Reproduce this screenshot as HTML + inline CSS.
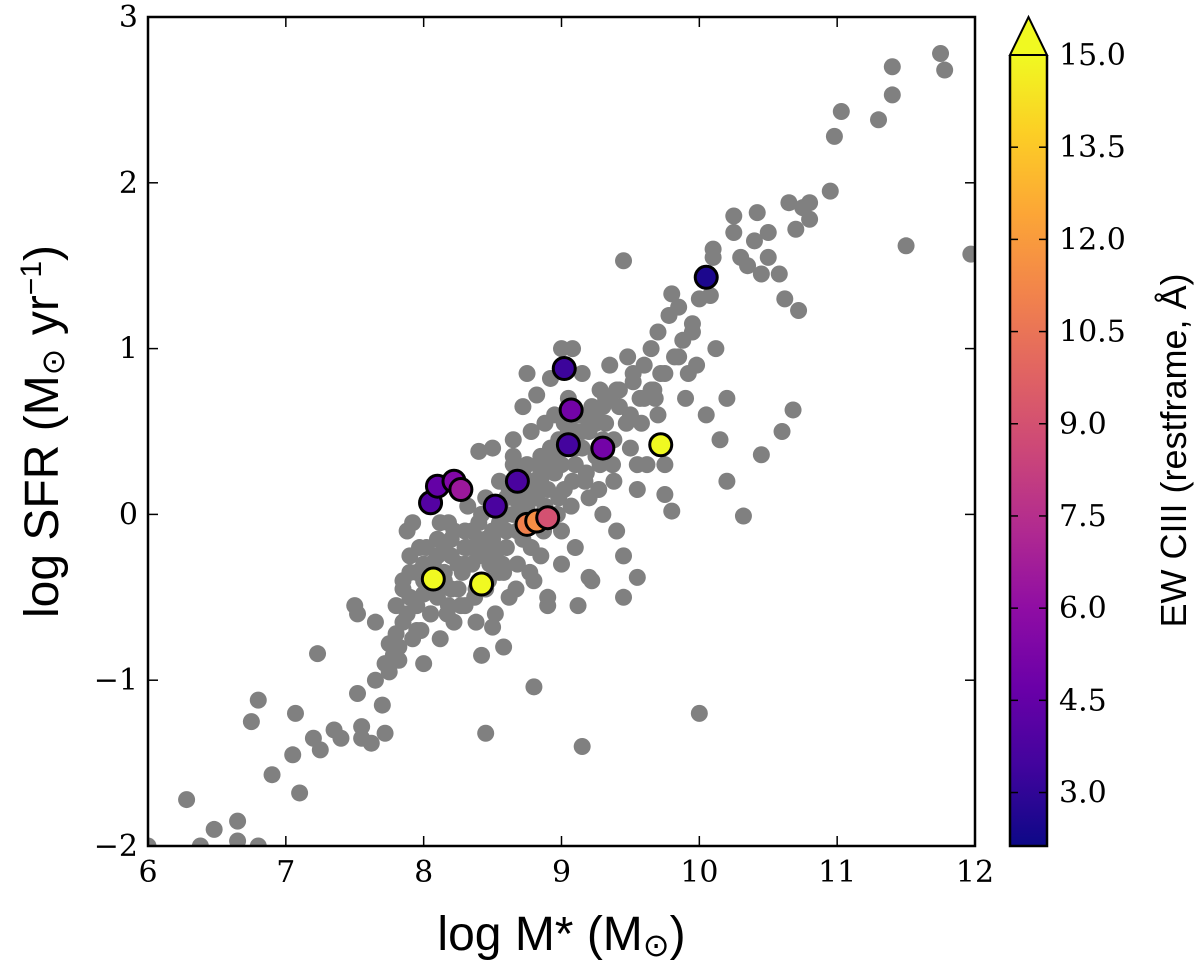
<!DOCTYPE html>
<html><head><meta charset="utf-8"><style>
body{margin:0;background:#fff;}
svg{display:block;font-family:"DejaVu Serif","Liberation Serif",serif;}
.lab{font-family:"Liberation Sans","DejaVu Sans",sans-serif;}
</style></head><body>
<svg id="chart" width="1200" height="966" xmlns="http://www.w3.org/2000/svg">
<g id="plot"></g>
</svg>
<script>
const xTicks=[6,7,8,9,10,11,12];
const yTicks=[-2,-1,0,1,2,3];
const yTickLabels=["\u22122","\u22121","0","1","2","3"];
const cbTicks=[3.0,4.5,6.0,7.5,9.0,10.5,12.0,13.5,15.0];
const grayX=[6.0,6.28,6.38,6.48,6.65,6.65,6.8,6.75,6.8,6.9,7.07,7.05,7.1,7.2,7.23,7.25,7.35,7.4,7.5,7.52,7.52,7.55,7.55,7.62,7.65,7.65,7.7,7.72,7.72,7.75,7.8,7.82,7.85,7.85,7.88,7.9,7.92,7.95,7.97,8.0,8.0,8.05,8.1,8.1,8.12,8.15,8.18,8.2,8.22,8.25,8.3,8.3,8.32,8.35,8.38,8.4,8.4,8.42,8.45,8.45,8.48,8.5,8.5,8.52,8.55,8.55,8.58,8.6,8.6,8.62,8.65,8.65,8.68,8.7,8.72,8.72,8.75,8.75,8.78,8.8,8.8,8.82,8.85,8.85,8.88,8.9,8.9,8.92,8.95,8.95,8.98,9.0,9.0,9.02,9.05,9.08,9.1,9.1,9.12,9.15,9.15,9.2,9.2,9.22,9.25,9.28,9.3,9.32,9.35,9.38,9.4,9.42,9.45,9.45,9.48,9.5,9.52,9.55,9.58,9.6,9.62,9.65,9.68,9.7,9.72,9.75,9.75,9.78,9.8,9.8,9.82,9.85,9.88,9.9,9.92,9.95,9.98,10.0,10.0,10.05,10.08,10.1,10.1,10.12,10.15,10.2,10.2,10.25,10.25,10.3,10.32,10.35,10.4,10.42,10.45,10.45,10.5,10.5,10.58,10.6,10.62,10.65,10.68,10.7,10.72,10.75,10.8,10.8,10.95,10.98,11.03,11.3,11.4,11.4,11.5,11.75,11.78,11.97,9.15,8.45,8.8,8.5,8.9,9.0,9.2,9.45,9.55,8.0,7.9,8.35,8.55,8.65,8.7,8.85,8.95,9.05,9.25,9.35,8.25,8.4,8.6,8.75,8.9,9.1,9.3,9.5,9.65,9.85,8.15,8.3,8.5,8.7,8.95,9.2,9.4,9.6,9.75,9.95,7.95,8.05,8.2,8.45,8.65,8.85,9.05,9.3,9.55,9.7,
7.8,7.85,7.9,7.95,8.0,8.05,8.1,8.15,8.2,8.25,8.3,8.35,8.4,8.45,8.5,8.55,8.6,8.65,8.7,8.75,8.8,8.85,8.9,8.95,9.0,9.05,9.1,9.15,9.2,9.25,
7.82,7.88,7.98,8.08,8.18,8.28,8.38,8.48,8.58,8.68,8.78,8.88,8.98,9.08,9.18,9.28,9.38,
8.02,8.12,8.22,8.32,8.42,8.52,8.62,8.72,8.82,8.92,9.02,9.12,9.22,9.32,9.42,9.52,
7.75,7.78,7.92,8.07,8.17,8.27,8.37,8.47,8.57,8.67,8.77,8.87,8.97,9.07,9.17,9.27,9.37,9.47,9.57,9.67];
const grayY=[-2.0,-1.72,-2.0,-1.9,-1.85,-1.97,-2.0,-1.25,-1.12,-1.57,-1.2,-1.45,-1.68,-1.35,-0.84,-1.42,-1.3,-1.35,-0.55,-0.6,-1.08,-1.28,-1.35,-1.38,-0.65,-1.0,-1.15,-1.32,-0.9,-0.78,-0.72,-0.88,-0.45,-0.65,-0.1,-0.35,-0.05,-0.55,-0.2,-0.9,-0.3,-0.6,-0.5,-0.15,-0.75,-0.35,-0.05,-0.25,-0.65,-0.45,-0.1,-0.55,0.05,-0.3,-0.65,0.38,-0.15,-0.85,0.1,-0.45,-0.3,0.4,-0.1,-0.6,0.2,-0.35,-0.8,0.0,-0.2,-0.5,0.3,0.45,-0.3,0.1,0.65,-0.15,0.3,0.85,0.5,-0.4,0.15,0.72,0.35,-0.25,0.55,0.0,-0.55,0.82,0.25,0.6,0.45,1.0,-0.1,0.15,0.7,1.0,0.3,-0.2,-0.55,0.5,0.85,0.1,0.6,-0.4,0.35,0.75,0.0,0.55,0.9,0.2,-0.1,0.65,1.53,-0.25,0.95,0.4,0.8,0.15,0.55,0.9,0.3,1.0,0.7,1.1,0.85,0.3,0.12,1.2,0.02,1.33,0.95,1.25,1.05,0.7,0.85,1.15,0.9,1.3,-1.2,0.6,1.32,1.55,1.6,1.0,0.45,0.2,0.7,1.8,1.7,1.55,-0.01,1.5,1.65,1.82,0.36,1.45,1.7,1.55,1.45,0.5,1.3,1.88,0.63,1.72,1.23,1.85,1.88,1.78,1.95,2.28,2.43,2.38,2.53,2.7,1.62,2.78,2.68,1.57,-1.4,-1.32,-1.04,-0.68,-0.5,-0.3,-0.38,-0.5,-0.38,-0.48,-0.25,-0.2,-0.05,0.1,-0.1,0.2,0.4,0.5,0.6,0.7,-0.3,-0.25,-0.1,0.05,0.15,0.4,0.45,0.6,0.75,0.95,-0.4,-0.3,-0.2,0.05,0.25,0.55,0.75,0.7,0.85,1.1,-0.7,-0.6,-0.45,-0.15,0.35,0.3,0.55,0.65,0.3,0.6,
-0.55,-0.4,-0.5,-0.35,-0.4,-0.3,-0.25,-0.2,-0.15,-0.3,-0.2,-0.1,-0.05,-0.2,-0.15,0.05,0.1,0.0,0.05,0.15,0.2,0.25,0.3,0.35,0.3,0.45,0.5,0.4,0.5,0.55,
-0.8,-0.6,-0.7,-0.45,-0.55,-0.35,-0.45,-0.25,-0.35,-0.1,-0.2,0.05,0.1,0.2,0.25,0.3,0.45,
-0.2,-0.05,-0.1,-0.2,0.0,-0.25,0.15,0.25,0.1,0.4,0.55,0.6,0.65,0.7,0.75,0.85,
-0.95,-0.85,-0.75,-0.3,-0.6,-0.55,-0.5,-0.4,-0.3,-0.45,-0.35,-0.1,0.0,0.05,0.2,0.15,0.3,0.55,0.7,0.75];
const colX=[8.07,8.42,8.05,8.1,8.22,8.27,8.52,8.68,8.75,8.82,8.9,9.02,9.07,9.05,9.3,9.72,10.05];
const colY=[-0.39,-0.42,0.07,0.17,0.2,0.15,0.05,0.2,-0.06,-0.04,-0.02,0.88,0.63,0.42,0.4,0.42,1.43];
const colEW=[15,15,4,4.5,5.5,6.5,3.7,3.7,11,11.5,9,3.3,5,3.5,5,15,2.5];

const NS="http://www.w3.org/2000/svg";
const L=148,R=975,T=17,B=846;
const X=v=>L+(v-6)/6*(R-L);
const Y=v=>B-(v+2)/5*(B-T);
const cbL=1010,cbR=1047,cbT=55,cbB=846,cbMin=2.13,cbMax=15.0;
const CY=v=>cbB-(v-cbMin)/(cbMax-cbMin)*(cbB-cbT);
const stops=["#0d0887","#41049d","#6a00a8","#8f0da4","#b12a90","#cc4778","#e16462","#f2844b","#fca636","#fcce25","#f0f921"];
function hx(c){return [1,3,5].map(i=>parseInt(c.substr(i,2),16));}
function cmap(t){t=Math.max(0,Math.min(1,t));const p=t*10,i=Math.min(9,Math.floor(p)),f=p-i;const a=hx(stops[i]),b=hx(stops[i+1]);return "rgb("+a.map((v,k)=>Math.round(v+(b[k]-v)*f)).join(",")+")";}
const g=document.getElementById('plot');
function el(tag,attrs,parent){const e=document.createElementNS(NS,tag);for(const k in attrs)e.setAttribute(k,attrs[k]);(parent||g).appendChild(e);return e;}
const defs=el('defs',{});
const cp=el('clipPath',{id:'clip'},defs);el('rect',{x:L,y:T,width:R-L,height:B-T},cp);
const pts=el('g',{'clip-path':'url(#clip)'});


for(let i=0;i<grayX.length;i++){const c=el('circle',{cx:X(grayX[i]),cy:Y(grayY[i]),r:8.5,fill:'#808080'},pts);

}
for(let i=0;i<colX.length;i++){const c=el('circle',{cx:X(colX[i]),cy:Y(colY[i]),r:11,fill:cmap((colEW[i]-cbMin)/(cbMax-cbMin)),stroke:'#000','stroke-width':3},pts);

}
const fr=el('rect',{x:L,y:T,width:R-L,height:B-T,fill:'none',stroke:'#000','stroke-width':2.5});


xTicks.forEach(v=>{const x=X(v);el('line',{x1:x,x2:x,y1:B,y2:B-10,stroke:'#000','stroke-width':1.5});el('line',{x1:x,x2:x,y1:T,y2:T+10,stroke:'#000','stroke-width':1.5});
const t=el('text',{x:x,y:B+36,'text-anchor':'middle','font-size':30});t.textContent=v;

});
yTicks.forEach((v,i)=>{const y=Y(v);el('line',{x1:L,x2:L+10,y1:y,y2:y,stroke:'#000','stroke-width':1.5});el('line',{x1:R,x2:R-10,y1:y,y2:y,stroke:'#000','stroke-width':1.5});
const t=el('text',{x:L-10,y:y+10,'text-anchor':'end','font-size':30});t.textContent=yTickLabels[i];

});
const xt=el('text',{x:(L+R)/2,y:950,'text-anchor':'middle','font-size':48,class:'lab'});xt.innerHTML='log M* (M<tspan font-size="32" dy="6">\u2299</tspan><tspan dy="-6">)</tspan>';


const yt=el('text',{x:0,y:0,'text-anchor':'middle','font-size':48,class:'lab',transform:'translate(58,'+((T+B)/2)+') rotate(-90)'});yt.innerHTML='log SFR (M<tspan font-size="32" dy="6">\u2299</tspan><tspan dy="-6"> yr</tspan><tspan font-size="30" dy="-17">\u22121</tspan><tspan dy="17">)</tspan>';


// colorbar
const lg=el('linearGradient',{id:'cbg',x1:0,y1:1,x2:0,y2:0},defs);
for(let i=0;i<=10;i++)el('stop',{offset:i/10,'stop-color':stops[i]},lg);
const cb=el('rect',{x:cbL,y:cbT,width:cbR-cbL,height:cbB-cbT,fill:'url(#cbg)'});


const ar=el('polygon',{points:`${cbL},${cbT} ${(cbL+cbR)/2},17 ${cbR},${cbT}`,fill:'#f0f921',stroke:'#000','stroke-width':2});


el('polyline',{points:`${cbL},${cbT} ${cbL},${cbB} ${cbR},${cbB} ${cbR},${cbT}`,fill:'none',stroke:'#000','stroke-width':2.5});
cbTicks.forEach(v=>{const y=CY(v);el('line',{x1:cbR,x2:cbR-8,y1:y,y2:y,stroke:'#000','stroke-width':1.5});el('line',{x1:cbL,x2:cbL+8,y1:y,y2:y,stroke:'#000','stroke-width':1.5});
const t=el('text',{x:cbR+12,y:y+10,'font-size':30});t.textContent=v.toFixed(1);

});
const ct=el('text',{x:0,y:0,'text-anchor':'middle','font-size':36,class:'lab',transform:'translate(1186,'+((cbT+cbB)/2)+') rotate(-90)'});ct.textContent='EW CIII (restframe, \u00c5)';


</script>
</body></html>
